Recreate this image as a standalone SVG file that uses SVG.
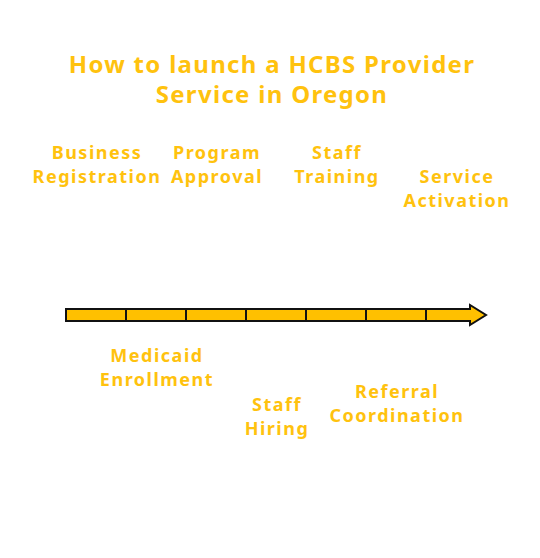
<svg xmlns="http://www.w3.org/2000/svg" width="540" height="558" viewBox="0 0 540 558">
<style>
.t{font-family:"Noto Sans","Liberation Sans",sans-serif;font-weight:bold;fill:#ffc20e;text-anchor:middle}
.title{font-size:24px;letter-spacing:1.3px}
.lbl{font-size:18px;letter-spacing:1.5px}
.seg{fill:#ffc000;stroke:#111;stroke-width:2}
</style>
<rect width="540" height="558" fill="#ffffff"/>
<g id="title">
<text class="t title" x="272" y="73">How to launch a HCBS Provider</text>
<text class="t title" x="272" y="103">Service in Oregon</text>
</g>
<g id="connectors">
<path class="seg" d="M66 309 H470 V305 L486 315 L470 325 V321 H66 Z" stroke-linejoin="miter"/>
<path d="M126 309V321M186 309V321M246 309V321M306 309V321M366 309V321M426 309V321" stroke="#111" stroke-width="2" fill="none"/>
</g>
<g id="business-registration"><text class="t lbl" x="97" y="159">Business</text><text class="t lbl" x="97" y="183">Registration</text></g>
<g id="program-approval"><text class="t lbl" x="217" y="159">Program</text><text class="t lbl" x="217" y="183">Approval</text></g>
<g id="staff-training"><text class="t lbl" x="337" y="159">Staff</text><text class="t lbl" x="337" y="183">Training</text></g>
<g id="service-activation"><text class="t lbl" x="457" y="183">Service</text><text class="t lbl" x="457" y="207">Activation</text></g>
<g id="medicaid-enrollment"><text class="t lbl" x="157" y="362">Medicaid</text><text class="t lbl" x="157" y="386">Enrollment</text></g>
<g id="staff-hiring"><text class="t lbl" x="277" y="411">Staff</text><text class="t lbl" x="277" y="435">Hiring</text></g>
<g id="referral-coordination"><text class="t lbl" x="397" y="398">Referral</text><text class="t lbl" x="397" y="422">Coordination</text></g>
</svg>
